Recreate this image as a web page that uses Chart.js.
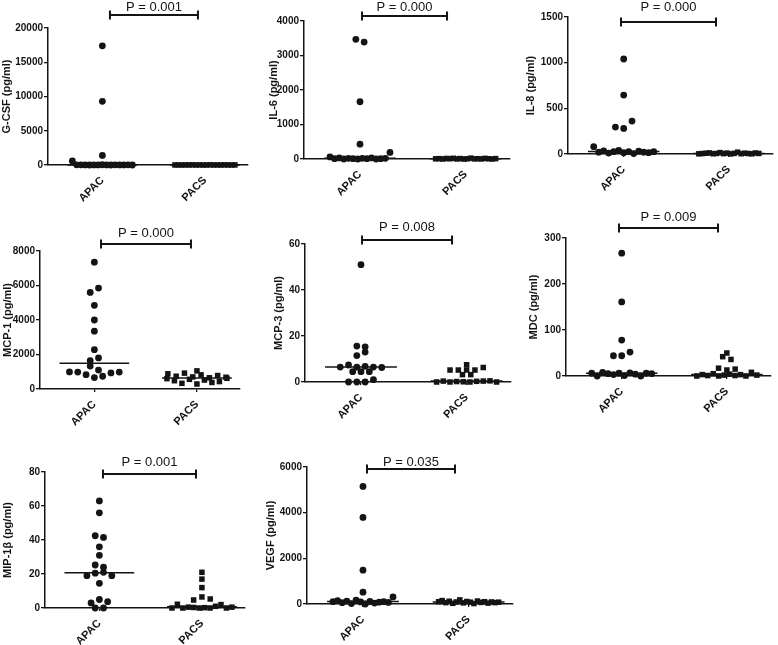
<!DOCTYPE html>
<html>
<head>
<meta charset="utf-8">
<script src="https://cdn.jsdelivr.net/npm/chart.js@4.4.0/dist/chart.umd.min.js"></script>
<style>
  html, body { margin: 0; padding: 0; background: #fff; overflow: hidden; }
  body { width: 778px; height: 645px; position: relative; }
  canvas { position: absolute; }
</style>
</head>
<body>
<script>
/* ═══════════════════════════
   CYTOKINES APAC vs PACS
═══════════════════════════ */

const groups = ['APAC', 'PACS'];

// values (pg/ml)
const gcsfApac = [17400, 9300, 1400, 600, 30, 20, 10, 0, 15, 5, 40, 10, 0, 25, 5, 10, 20, 0];
const gcsfPacs = [5, 10, 0, 15, 8, 20, 3, 12, 0, 6, 25, 4, 9, 2, 18, 7, 1, 11];

const il6Apac = [3470, 3390, 1660, 430, 60, 10, 30, 0, 20, 10, 0, 20, 10, 30, 0, 10, 20, 190];
const il6Pacs = [5, 10, 0, 15, 8, 20, 3, 12, 0, 6, 25, 4, 9, 2, 18, 7, 1, 11];

const il8Apac = [1040, 645, 295, 280, 360, 80, 20, 35, 10, 25, 40, 15, 25, 5, 30, 20, 15, 25];
const il8Pacs = [2, 5, 8, 12, 3, 6, 15, 4, 10, 1, 7, 20, 3, 9, 5, 2, 11, 6];

const mcp1Apac = [7350, 5600, 5850, 4850, 4000, 3350, 2280, 1650, 1800, 1330, 1100, 990, 980, 830, 660, 740, 930, 980];
const mcp1Pacs = [600, 1050, 480, 880, 330, 740, 560, 920, 290, 700, 520, 820, 380, 650, 430, 780, 620, 680];

const mcp3Apac = [51, 15.6, 15.3, 11.5, 13, 6.5, 7.4, 6.5, 6.8, 6.5, 6.3, 4.5, 4.5, 4.5, 0, 0, 0, 1];
const mcp3Pacs = [7.5, 5.2, 5.2, 5.2, 5.2, 6.3, 3.2, 3.2, 0, 0.4, 0, 0.2, 0.1, 0, 0.3, 0.4, 0.5, 0];

const mdcApac = [267, 161, 78, 44, 44, 52, 6, 0, 8, 5, 3, 6, 1, 7, 4, 0, 6, 5];
const mdcPacs = [17, 13, 15, 42, 36, 50, 0, 3, 1, 5, 0, 2, 4, 1, 3, 0, 8, 2];

const mipApac = [63, 56, 42.5, 41.5, 36, 31, 25.3, 24, 19, 20.5, 21, 19, 14.5, 3, 5, 3.7, 0, 0];
const mipPacs = [21, 17, 12, 4.7, 6.5, 5.3, 0, 2.2, 0, 0.5, 0.3, 0, 0.2, 0, 1, 2, 0, 0.5];

const vegfApac = [5150, 3790, 1480, 520, 100, 150, 60, 130, 20, 170, 90, 0, 110, 40, 80, 100, 70, 310];
const vegfPacs = [100, 150, 60, 120, 30, 90, 180, 50, 110, 80, 20, 130, 70, 100, 40, 90, 60, 80];

const yTitles = ['G-CSF (pg/ml)', 'IL-6 (pg/ml)', 'IL-8 (pg/ml)', 'MCP-1 (pg/ml)', 'MCP-3 (pg/ml)', 'MDC (pg/ml)', 'MIP-1β (pg/ml)', 'VEGF (pg/ml)'];
const yMaxes = [20000, 4000, 1500, 8000, 60, 300, 80, 6000];
const ySteps = [5000, 1000, 500, 2000, 20, 100, 20, 2000];
const pLabels = ['P = 0.001', 'P = 0.000', 'P = 0.000', 'P = 0.000', 'P = 0.008', 'P = 0.009', 'P = 0.001', 'P = 0.035'];
const apacSets = [gcsfApac, il6Apac, il8Apac, mcp1Apac, mcp3Apac, mdcApac, mipApac, vegfApac];
const pacsSets = [gcsfPacs, il6Pacs, il8Pacs, mcp1Pacs, mcp3Pacs, mdcPacs, mipPacs, vegfPacs];

// panel placement on the page (plot area left/top, size, y-axis width, p-bar span/offsets, row merge px)
const layout = [
  { left: 48,  top: 28,  w: 200, h: 137, yw: 48, from: 1.074, to: 1.932, bar: 13, gap: 8,  row: 8 },
  { left: 304, top: 21,  w: 206, h: 138, yw: 37, from: 1.019, to: 1.824, bar: 5,  gap: 9,  row: 8 },
  { left: 568, top: 17,  w: 205, h: 137, yw: 44, from: 0.974, to: 1.878, bar: -5, gap: 15, row: 8 },
  { left: 40,  top: 251, w: 200, h: 138, yw: 39, from: 1.065, to: 1.942, bar: 7,  gap: 11, row: 6 },
  { left: 305, top: 244, w: 206, h: 138, yw: 33, from: 1.010, to: 1.862, bar: 4,  gap: 13, row: 4 },
  { left: 566, top: 238, w: 205, h: 138, yw: 39, from: 0.974, to: 1.916, bar: 10, gap: 11, row: 4.5 },
  { left: 45,  top: 472, w: 200, h: 136, yw: 44, from: 1.035, to: 1.942, bar: -2, gap: 12, row: 4.5 },
  { left: 307, top: 467, w: 206, h: 137, yw: 43, from: 1.038, to: 1.871, bar: -2, gap: 7,  row: 8 }
];

const ink = '#141414';
const family = '"Liberation Sans", Arial, sans-serif';
const X_MIN = 0.47, X_MAX = 2.42;
const TOP_PAD = 32, BOTTOM_H = 48, RIGHT_PAD = 6;

function median(arr) {
  const s = [...arr].sort((a, b) => a - b);
  const m = Math.floor(s.length / 2);
  return s.length % 2 ? s[m] : (s[m - 1] + s[m]) / 2;
}

// prism-like column scatter: close values share a row and get spread sideways
function spread(values, center, xPerPx, pxPerY, rowPx) {
  const order = values.map((v, i) => i).sort((a, b) => values[a] - values[b]);
  const rows = [];
  order.forEach(i => {
    const row = rows[rows.length - 1];
    if (row && (values[i] - values[row[0]]) * pxPerY < rowPx) row.push(i);
    else rows.push([i]);
  });
  const pts = [];
  rows.forEach(row => {
    row.sort((a, b) => a - b);
    const n = row.length;
    const step = n > 1 ? Math.min(8.3, 60 / (n - 1)) : 0;
    row.forEach((i, k) => {
      pts.push({ x: center + (k - (n - 1) / 2) * step * xPerPx, y: values[i] });
    });
  });
  return pts;
}

const pBarPlugin = {
  id: 'pbar',
  afterDraw(chart, args, opts) {
    const { ctx, chartArea, scales } = chart;
    const y = chartArea.top - opts.offset;
    const x1 = scales.x.getPixelForValue(opts.from);
    const x2 = scales.x.getPixelForValue(opts.to);
    ctx.save();
    ctx.strokeStyle = ink;
    ctx.lineWidth = 2;
    ctx.beginPath();
    ctx.moveTo(x1, y); ctx.lineTo(x2, y);
    ctx.moveTo(x1, y - 4.5); ctx.lineTo(x1, y + 4.5);
    ctx.moveTo(x2, y - 4.5); ctx.lineTo(x2, y + 4.5);
    ctx.stroke();
    ctx.fillStyle = ink;
    ctx.font = '13px ' + family;
    ctx.textAlign = 'center';
    ctx.textBaseline = 'middle';
    ctx.fillText(opts.text, (x1 + x2) / 2, y - opts.gap);
    ctx.restore();
  }
};

const halfLine = 0.34;

layout.forEach((g, i) => {
  const cv = document.createElement('canvas');
  const cw = g.yw + g.w + RIGHT_PAD;
  const ch = TOP_PAD + g.h + BOTTOM_H;
  cv.width = cw; cv.height = ch;
  cv.style.width = cw + 'px'; cv.style.height = ch + 'px';
  cv.style.left = (g.left - g.yw) + 'px';
  cv.style.top = (g.top - TOP_PAD) + 'px';
  document.body.appendChild(cv);

  const xPerPx = (X_MAX - X_MIN) / g.w;
  const pxPerY = g.h / yMaxes[i];
  const apac = apacSets[i], pacs = pacsSets[i];
  const mA = median(apac), mP = median(pacs);

  new Chart(cv, {
    type: 'scatter',
    plugins: [pBarPlugin],
    data: {
      datasets: [
        { data: [{ x: 1 - halfLine, y: mA }, { x: 1 + halfLine, y: mA }], showLine: true, borderColor: ink, borderWidth: 1.5, pointRadius: 0, clip: false },
        { data: [{ x: 2 - halfLine, y: mP }, { x: 2 + halfLine, y: mP }], showLine: true, borderColor: ink, borderWidth: 1.5, pointRadius: 0, clip: false },
        { data: spread(apac, 1, xPerPx, pxPerY, g.row), pointStyle: 'circle', pointRadius: 3.4, backgroundColor: ink, borderWidth: 0, clip: false },
        { data: spread(pacs, 2, xPerPx, pxPerY, g.row), pointStyle: 'rect', pointRadius: 3.9, backgroundColor: ink, borderWidth: 0, clip: false }
      ]
    },
    options: {
      responsive: false,
      animation: false,
      devicePixelRatio: 1,
      events: [],
      layout: { padding: { top: TOP_PAD, right: RIGHT_PAD, left: 0, bottom: 0 } },
      plugins: {
        legend: { display: false },
        tooltip: { enabled: false },
        pbar: { text: pLabels[i], from: g.from, to: g.to, offset: g.bar, gap: g.gap }
      },
      scales: {
        x: {
          type: 'linear', min: X_MIN, max: X_MAX,
          afterBuildTicks: s => { s.ticks = [{ value: 1 }, { value: 2 }]; },
          afterFit: s => { s.height = BOTTOM_H; },
          grid: { display: true, drawOnChartArea: false, drawTicks: true, tickLength: 3, color: ink, lineWidth: 1.3 },
          border: { display: true, color: ink, width: 1.5 },
          ticks: {
            autoSkip: false, minRotation: 45, maxRotation: 45, padding: 6, color: ink,
            font: { family, size: 11, weight: 'bold' },
            callback: v => groups[v - 1]
          }
        },
        y: {
          min: 0, max: yMaxes[i],
          afterFit: s => { s.width = g.yw; },
          grid: { display: true, drawOnChartArea: false, drawTicks: true, tickLength: 4, color: ink, lineWidth: 1.3 },
          border: { display: true, color: ink, width: 1.5 },
          ticks: {
            stepSize: ySteps[i], padding: 1, color: ink,
            font: { family, size: 10, weight: 'bold' },
            callback: v => String(v)
          },
          title: {
            display: true, text: yTitles[i], color: ink, padding: { top: 0, bottom: 0 },
            font: { family, size: 11, weight: 'bold' }
          }
        }
      }
    }
  });
});
</script>
</body>
</html>
